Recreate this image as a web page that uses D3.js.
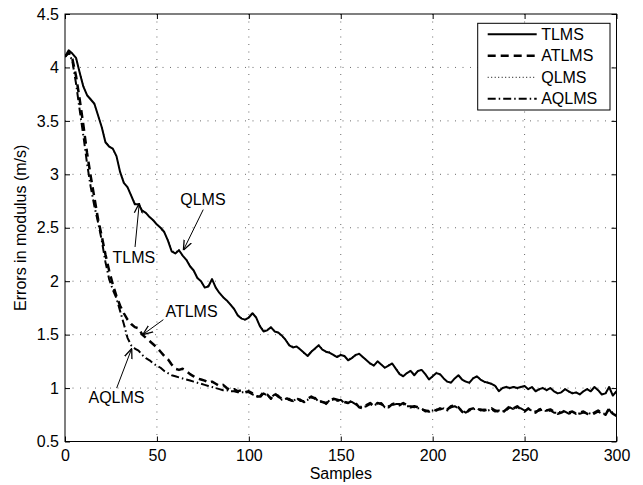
<!DOCTYPE html>
<html>
<head>
<meta charset="utf-8">
<script src="https://cdn.jsdelivr.net/npm/d3@7"></script>
<style>
  body { margin: 0; background: #fff; }
  text { font-family: "Liberation Sans", Arial, sans-serif; }
</style>
</head>
<body>
<div id="chart"></div>
<script>
// sample index, every 2 samples
const samples = d3.range(0, 301, 2)

const tlms = [4.10,4.16,4.13,4.09,3.95,3.82,3.74,3.70,3.66,3.55,3.44,3.30,3.26,3.24,3.17,3.02,2.92,2.88,2.80,2.72,
  2.72,2.66,2.64,2.60,2.57,2.53,2.50,2.46,2.38,2.28,2.26,2.29,2.24,2.20,2.14,2.10,2.03,2.00,1.94,1.95,
  2.02,1.94,1.89,1.85,1.82,1.78,1.74,1.68,1.65,1.64,1.66,1.70,1.66,1.58,1.53,1.54,1.57,1.53,1.52,1.49,
  1.45,1.40,1.38,1.39,1.36,1.33,1.30,1.34,1.37,1.40,1.36,1.34,1.33,1.31,1.29,1.31,1.30,1.26,1.28,1.31,
  1.32,1.29,1.26,1.23,1.21,1.25,1.22,1.19,1.21,1.23,1.18,1.13,1.11,1.14,1.16,1.12,1.16,1.17,1.13,1.08,
  1.11,1.14,1.13,1.09,1.06,1.05,1.09,1.12,1.08,1.06,1.05,1.09,1.11,1.08,1.06,1.05,1.04,1.02,0.97,1.00,
  1.01,1.00,1.01,1.00,1.01,1.02,0.99,1.01,0.97,0.99,1.00,0.98,1.00,0.97,0.95,0.96,0.99,0.97,0.95,0.96,
  0.94,0.97,0.99,0.97,1.01,0.98,0.94,0.95,1.01,0.93,0.97]

const qlms = [4.10,4.15,4.13,4.08,3.96,3.83,3.74,3.71,3.65,3.55,3.45,3.31,3.27,3.23,3.16,3.03,2.93,2.87,2.81,2.73,
  2.71,2.67,2.63,2.61,2.56,2.54,2.49,2.45,2.39,2.29,2.27,2.30,2.23,2.21,2.15,2.09,2.04,1.99,1.95,1.96,
  2.01,1.95,1.88,1.86,1.81,1.79,1.73,1.69,1.66,1.63,1.67,1.71,1.65,1.59,1.54,1.55,1.56,1.54,1.51,1.48,
  1.46,1.41,1.39,1.38,1.37,1.32,1.31,1.35,1.36,1.41,1.37,1.33,1.34,1.30,1.30,1.32,1.29,1.27,1.29,1.30,
  1.33,1.28,1.27,1.22,1.22,1.24,1.23,1.18,1.22,1.22,1.19,1.14,1.12,1.13,1.17,1.13,1.15,1.18,1.12,1.09,
  1.10,1.15,1.12,1.10,1.05,1.06,1.08,1.13,1.07,1.07,1.04,1.10,1.10,1.09,1.05,1.06,1.03,1.03,0.98,0.99,
  1.02,0.99,1.02,0.99,1.02,1.01,1.00,1.00,0.98,0.98,1.01,0.97,1.01,0.96,0.96,0.95,1.00,0.96,0.96,0.95,
  0.95,0.96,1.00,0.96,1.02,0.97,0.95,0.94,1.02,0.94,0.96]

const atlms = [4.10,4.14,4.08,3.92,3.70,3.46,3.20,2.98,2.78,2.58,2.42,2.25,2.10,1.97,1.86,1.77,1.70,1.64,1.60,1.57,
  1.56,1.50,1.47,1.44,1.41,1.38,1.34,1.30,1.27,1.22,1.18,1.17,1.18,1.16,1.13,1.11,1.09,1.08,1.07,1.05,
  1.06,1.04,1.02,1.03,1.00,0.98,0.99,0.97,0.98,0.96,0.97,0.95,0.92,0.92,0.96,0.94,0.90,0.95,0.92,0.90,
  0.91,0.89,0.88,0.90,0.89,0.87,0.90,0.92,0.90,0.88,0.87,0.86,0.88,0.90,0.89,0.88,0.87,0.86,0.88,0.86,
  0.82,0.81,0.84,0.86,0.83,0.86,0.85,0.83,0.82,0.85,0.86,0.84,0.86,0.84,0.82,0.83,0.82,0.80,0.79,0.78,
  0.80,0.79,0.81,0.80,0.80,0.83,0.84,0.82,0.78,0.76,0.80,0.81,0.80,0.80,0.79,0.80,0.81,0.79,0.78,0.77,
  0.80,0.83,0.81,0.83,0.80,0.78,0.81,0.78,0.77,0.80,0.81,0.79,0.80,0.78,0.76,0.77,0.79,0.77,0.78,0.76,
  0.77,0.78,0.76,0.75,0.77,0.79,0.77,0.75,0.81,0.76,0.74]

const aqlms = [4.10,4.14,4.06,3.85,3.60,3.36,3.10,2.88,2.70,2.55,2.38,2.18,2.02,1.92,1.84,1.72,1.60,1.47,1.40,1.37,
  1.35,1.31,1.28,1.26,1.23,1.21,1.19,1.16,1.14,1.12,1.11,1.10,1.09,1.08,1.07,1.06,1.05,1.04,1.03,1.02,
  1.01,1.00,0.99,0.98,0.98,0.97,0.97,0.96,0.96,0.96,0.96,0.94,0.93,0.91,0.95,0.93,0.91,0.94,0.93,0.89,
  0.90,0.90,0.87,0.91,0.88,0.88,0.89,0.91,0.91,0.87,0.88,0.85,0.89,0.89,0.88,0.89,0.86,0.87,0.87,0.85,
  0.83,0.82,0.83,0.85,0.84,0.85,0.86,0.82,0.83,0.84,0.85,0.85,0.85,0.83,0.83,0.82,0.81,0.81,0.78,0.79,
  0.79,0.80,0.80,0.81,0.79,0.82,0.83,0.81,0.79,0.77,0.79,0.80,0.81,0.79,0.80,0.79,0.80,0.78,0.79,0.78,
  0.79,0.82,0.80,0.82,0.81,0.79,0.80,0.79,0.78,0.79,0.80,0.78,0.79,0.77,0.77,0.78,0.78,0.76,0.77,0.77,
  0.76,0.77,0.77,0.76,0.76,0.78,0.76,0.76,0.80,0.75,0.75]

const xTicks = [0, 50, 100, 150, 200, 250, 300]
const yTicks = [0.5, 1, 1.5, 2, 2.5, 3, 3.5, 4, 4.5]

// text callouts in data units: label position, arrow tail, arrow head
const notes = [
  { label: "QLMS",  tx: 75,   ty: 2.76, x1: 75.2, y1: 2.67, x2: 64.4, y2: 2.29 },
  { label: "TLMS",  tx: 37.5, ty: 2.22, x1: 38.1, y1: 2.32, x2: 40.4, y2: 2.73 },
  { label: "ATLMS", tx: 68.8, ty: 1.72, x1: 53.5, y1: 1.64, x2: 42.3, y2: 1.50 },
  { label: "AQLMS", tx: 28,   ty: 0.91, x1: 28.1, y1: 1.00, x2: 36.3, y2: 1.37 }
]

const series = [
  { name: "TLMS",  values: tlms,  width: 2,   dash: null },
  { name: "ATLMS", values: atlms, width: 2.5, dash: "8,5" },
  { name: "QLMS",  values: qlms,  width: 1,   dash: "1,2.5" },
  { name: "AQLMS", values: aqlms, width: 2,   dash: "8,3,1.5,3" }
]

const W = 643, H = 485
const m = { left: 65, right: 26.5, top: 14, bottom: 43.5 }
const iw = W - m.left - m.right
const ih = H - m.top - m.bottom
const fs = 16

const svg = d3.select("#chart").append("svg")
  .attr("width", W)
  .attr("height", H)

const x = d3.scaleLinear().domain([0, 300]).range([0, iw])
const y = d3.scaleLinear().domain([0.5, 4.5]).range([ih, 0])

const g = svg.append("g").attr("transform", `translate(${m.left},${m.top})`)

g.append("defs").append("clipPath").attr("id", "clip")
  .append("rect").attr("width", iw).attr("height", ih)
g.select("defs").append("marker")
  .attr("id", "arrow")
  .attr("viewBox", "0 0 10 10")
  .attr("refX", 10).attr("refY", 5)
  .attr("markerWidth", 10).attr("markerHeight", 10)
  .attr("markerUnits", "userSpaceOnUse")
  .attr("orient", "auto")
  .append("path")
  .attr("d", "M0,1 L10,5 L0,9")
  .attr("fill", "none")
  .attr("stroke", "#000")
  .attr("stroke-width", 1.3)

// grid
g.append("g").selectAll("line")
  .data(xTicks.slice(1, -1))
  .join("line")
  .attr("x1", d => x(d)).attr("x2", d => x(d))
  .attr("y1", 0).attr("y2", ih)
  .attr("stroke", "#444").attr("stroke-width", 0.8)
  .attr("stroke-dasharray", "1,6.5")
g.append("g").selectAll("line")
  .data(yTicks.slice(1, -1))
  .join("line")
  .attr("y1", d => y(d)).attr("y2", d => y(d))
  .attr("x1", 0).attr("x2", iw)
  .attr("stroke", "#444").attr("stroke-width", 0.8)
  .attr("stroke-dasharray", "1,6.5")

// axes, ticks inward on all four sides
const tickLen = 5
const fmt = d => String(d)
g.append("g").attr("transform", `translate(0,${ih})`)
  .call(d3.axisBottom(x).tickValues(xTicks).tickFormat(fmt).tickSizeInner(-tickLen).tickSizeOuter(0).tickPadding(8))
g.append("g")
  .call(d3.axisTop(x).tickValues(xTicks).tickSizeInner(-tickLen).tickSizeOuter(0).tickFormat(""))
g.append("g")
  .call(d3.axisLeft(y).tickValues(yTicks).tickFormat(fmt).tickSizeInner(-tickLen).tickSizeOuter(0).tickPadding(6))
g.append("g").attr("transform", `translate(${iw},0)`)
  .call(d3.axisRight(y).tickValues(yTicks).tickSizeInner(-tickLen).tickSizeOuter(0).tickFormat(""))

g.selectAll(".domain").remove()
g.selectAll(".tick line").attr("stroke", "#000")
g.selectAll(".tick text").attr("font-size", fs).attr("fill", "#000")
  .style("font-family", "'Liberation Sans', Arial, sans-serif")

g.append("rect")
  .attr("width", iw).attr("height", ih)
  .attr("fill", "none").attr("stroke", "#000").attr("stroke-width", 1)

// curves
const line = d3.line()
  .x((d, i) => x(samples[i]))
  .y(d => y(d))

g.append("g").attr("clip-path", "url(#clip)")
  .selectAll("path")
  .data(series)
  .join("path")
  .attr("d", d => line(d.values))
  .attr("fill", "none")
  .attr("stroke", "#000")
  .attr("stroke-width", d => d.width)
  .attr("stroke-dasharray", d => d.dash)
  .attr("stroke-linejoin", "round")

// callouts
const ann = g.append("g")
ann.selectAll("line")
  .data(notes)
  .join("line")
  .attr("x1", d => x(d.x1)).attr("y1", d => y(d.y1))
  .attr("x2", d => x(d.x2)).attr("y2", d => y(d.y2))
  .attr("stroke", "#000").attr("stroke-width", 1)
  .attr("marker-end", "url(#arrow)")
ann.selectAll("text")
  .data(notes)
  .join("text")
  .attr("x", d => x(d.tx)).attr("y", d => y(d.ty))
  .attr("text-anchor", "middle")
  .attr("dominant-baseline", "central")
  .attr("font-size", fs)
  .text(d => d.label)

// legend
const lg = g.append("g").attr("transform", `translate(${477.7 - m.left},${23.3 - m.top})`)
lg.append("rect")
  .attr("width", 132.3).attr("height", 86.7)
  .attr("fill", "#fff").attr("stroke", "#000").attr("stroke-width", 1)
const item = lg.selectAll(".item")
  .data(series)
  .join("g")
  .attr("class", "item")
  .attr("transform", (d, i) => `translate(0,${11 + i * 21.5})`)
item.append("line")
  .attr("x1", 10).attr("x2", 59)
  .attr("stroke", "#000")
  .attr("stroke-width", d => d.width)
  .attr("stroke-dasharray", d => d.dash)
item.append("text")
  .attr("x", 63.5)
  .attr("dominant-baseline", "central")
  .attr("font-size", fs)
  .text(d => d.name)

// axis titles
svg.append("text")
  .attr("x", m.left + iw / 2).attr("y", 479)
  .attr("text-anchor", "middle")
  .attr("font-size", fs)
  .text("Samples")
svg.append("text")
  .attr("transform", `translate(26,${m.top + ih / 2}) rotate(-90)`)
  .attr("text-anchor", "middle")
  .attr("font-size", fs)
  .text("Errors in modulus (m/s)")
</script>
</body>
</html>
